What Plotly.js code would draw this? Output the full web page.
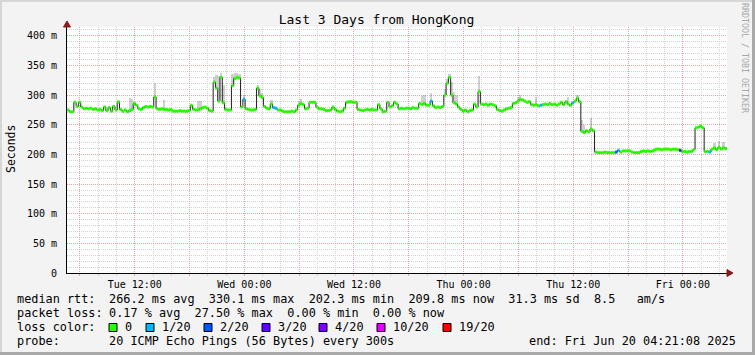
<!DOCTYPE html>
<html>
<head>
<meta charset="utf-8">
<script src="https://cdn.plot.ly/plotly-3.0.1.min.js"></script>
<style>html,body{margin:0;padding:0;background:#f3f3f3;}#chart{width:755px;height:355px;}</style>
</head>
<body>
<div id="chart"></div>
<script>
// ---------------- data ----------------
const chartTitle = 'Last 3 Days from HongKong';
const startTime = '2025-06-17 04:35:00';   // first sample (UTC-naive)
const stepMinutes = 15;                     // spacing of the samples below
// median RTT in ms, one value per step
const medianRtt = [
 275,272,272,288,281,288,280,277,278,277,
 278,276,277,275,276,274,280,274,279,273,
 281,275,288,276,273,275,272,274,276,286,
 283,277,276,279,281,280,281,280,297,277,
 276,277,276,276,275,276,273,273,273,274,
 273,273,273,274,283,276,275,275,277,279,
 280,278,274,273,322,312,290,330,287,276,
 275,275,316,328,330,329,280,293,277,276,
 275,275,276,312,299,296,281,278,277,285,
 279,278,275,275,273,272,272,272,273,272,
 275,283,286,284,277,278,288,288,288,280,
 277,277,276,274,274,275,280,276,273,272,
 273,278,288,289,289,288,288,276,275,274,
 275,276,275,276,275,275,284,277,272,273,
 288,280,282,288,285,277,278,277,278,278,
 277,279,278,278,286,284,286,283,283,290,
 282,279,280,279,281,300,320,330,300,287,
 285,280,276,273,275,272,274,275,285,280,
 306,285,284,285,283,285,284,282,276,274,
 273,275,277,278,279,286,287,290,293,292,
 290,288,289,284,283,284,282,283,284,285,
 284,286,284,285,283,285,288,284,289,285,
 283,287,290,295,289,239,237,240,238,243,
 240,204,203,203,203,204,203,203,203,203,
 204,207,204,206,206,206,206,204,203,203,
 203,205,206,205,206,205,206,208,209,209,
 208,209,209,209,208,209,209,208,207,205,
 205,204,205,205,208,245,246,248,245,205,
 205,204,209,211,208,212,209,211,210
];
// samples with packet loss (index into medianRtt, lost pings out of 20)
const lossIndex = [77, 90, 91, 159, 207, 221, 240, 241, 268, 281];
const lossCount = [1, 1, 1, 1, 1, 1, 2, 1, 4, 1];
// visible "smoke" tops (ms) at selected samples
const smokeIndex = [22,27,28,38,42,57,58,64,65,66,67,68,72,73,74,75,77,83,84,85,89,101,102,155,156,159,165,166,167,168,169,170,180,197,198,205,219,223,225,226,229,283,285,287];
const smokeTop   = [292,296,294,320,292,290,291,330,334,333,337,318,335,338,337,336,300,318,310,304,292,291,293,298,300,304,310,328,336,322,305,300,333,297,300,297,297,300,258,250,262,220,222,221];

const yTickVals = [0, 50, 100, 150, 200, 250, 300, 350, 400];
const yTickText = ['0', '50 m', '100 m', '150 m', '200 m', '250 m', '300 m', '350 m', '400 m'];

const lossLegendCounts = [0, 1, 2, 3, 4, 10, 19];
const lossLegendLabels = ['0', '1/20', '2/20', '3/20', '4/20', '10/20', '19/20'];
const lossLegendColors = ['#26ff00', '#00b8ff', '#0059ff', '#5e00ff', '#7e00ff', '#dd00ff', '#ff0000'];

const medianStatsText = '266.2 ms avg  330.1 ms max  202.3 ms min  209.8 ms now  31.3 ms sd  8.5   am/s';
const lossStatsText = '0.17 % avg  27.50 % max  0.00 % min  0.00 % now';
const probeText = '20 ICMP Echo Pings (56 Bytes) every 300s';
const endText = 'end: Fri Jun 20 04:21:08 2025';

// ---------------- helpers ----------------
const FONT = 'DejaVu Sans Mono, monospace';
const LEG = 11.85;
const STEP = stepMinutes * 60000;
const t0 = Date.parse(startTime.replace(' ', 'T') + 'Z');
function fmt(ms) {
  const d = new Date(ms), p = n => String(n).padStart(2, '0');
  return d.getUTCFullYear() + '-' + p(d.getUTCMonth() + 1) + '-' + p(d.getUTCDate()) + ' ' +
         p(d.getUTCHours()) + ':' + p(d.getUTCMinutes()) + ':' + p(d.getUTCSeconds());
}
const times = medianRtt.map((_, i) => fmt(t0 + i * STEP));
const timeEnd = fmt(t0 + medianRtt.length * STEP);
const tNext = i => fmt(t0 + (i + 1) * STEP);

const lossAt = {};
lossIndex.forEach((idx, k) => { lossAt[idx] = lossCount[k]; });
const colorFor = {};
lossLegendCounts.forEach((c, k) => { colorFor[c] = lossLegendColors[k]; });

// plot geometry in pixels
const W = 755, H = 355, L = 67, R = 727, T = 27, B = 273;
const px = x => (x - L) / (R - L);
const py = y => (B - y) / (B - T);

// ---------------- traces ----------------
const traces = [];
// smoke
traces.push({
  type: 'bar',
  x: smokeIndex.map(i => times[i]),
  base: smokeIndex.map(i => medianRtt[i]),
  y: smokeIndex.map((i, k) => smokeTop[k] - medianRtt[i]),
  width: STEP, offset: 0,
  marker: { color: 'rgba(110,110,110,0.32)', line: { width: 0 } },
  hoverinfo: 'skip'
});
// thin dark median line
traces.push({
  type: 'scatter', mode: 'lines',
  x: times.concat([timeEnd]), y: medianRtt.concat([medianRtt[medianRtt.length - 1]]),
  line: { color: '#202020', width: 1, shape: 'hv' },
  hoverinfo: 'skip'
});
// loss-coloured thick segments
lossLegendCounts.forEach(c => {
  const xs = [], ys = [];
  medianRtt.forEach((v, i) => {
    if ((lossAt[i] || 0) === c) { xs.push(times[i], tNext(i), null); ys.push(v, v, null); }
  });
  if (xs.length) traces.push({
    type: 'scatter', mode: 'lines', x: xs, y: ys, connectgaps: false,
    line: { color: colorFor[c], width: 3 }, hoverinfo: 'skip'
  });
});
// dummy trace to instantiate the overlay axis carrying the 6h/2h grid
traces.push({ type: 'scatter', mode: 'markers', x: [times[0]], y: [0], xaxis: 'x2',
  marker: { opacity: 0 }, hoverinfo: 'skip' });

// ---------------- annotations ----------------
const nb = s => s.replace(/ /g, '\u00a0');
const ann = [];
function txt(text, x, y, o) {
  o = o || {};
  ann.push(Object.assign({
    text: nb(text), xref: 'paper', yref: 'paper', x: px(x), y: py(y),
    xanchor: 'left', yanchor: 'middle', showarrow: false,
    font: { family: FONT, size: LEG, color: '#000' }
  }, o));
}
// y title
txt('Seconds', 11, 149, { xanchor: 'center', textangle: -90, font: { family: FONT, size: 11.5, color: '#000' } });
// watermark
txt('RRDTOOL / TOBI OETIKER', 745.5, 57.5, { xanchor: 'center', textangle: 90, font: { family: FONT, size: 8.3, color: '#a8a8a8' } });
// legend line 1
txt('median rtt:', 15, 299);
txt(medianStatsText, 107, 299);
// legend line 2
txt('packet loss:', 15, 313);
txt(lossStatsText, 107, 313);
// legend line 3
txt('loss color:', 15, 327);
const sqX = [109, 146, 204, 262, 319, 377, 443];
const shapes = [];
sqX.forEach((x, k) => {
  shapes.push({ type: 'rect', xref: 'paper', yref: 'paper', x0: px(x), x1: px(x + 8), y0: py(331.5), y1: py(323.5),
    fillcolor: lossLegendColors[k], line: { color: '#000', width: 1 } });
  txt(lossLegendLabels[k], x + 14, 327);
});
// legend line 4
txt('probe:', 15, 341);
txt(probeText, 107, 341);
txt(endText, 738, 341, { xanchor: 'right' });

// axis arrows
const arrowCol = '#8b1a1a';
shapes.push({ type: 'path', xref: 'paper', yref: 'paper', fillcolor: arrowCol, line: { color: arrowCol, width: 1 },
  path: `M ${px(67)},${py(21)} L ${px(63.5)},${py(27)} L ${px(70.5)},${py(27)} Z` });
shapes.push({ type: 'path', xref: 'paper', yref: 'paper', fillcolor: arrowCol, line: { color: arrowCol, width: 1 },
  path: `M ${px(733)},${py(273)} L ${px(727)},${py(269.5)} L ${px(727)},${py(276.5)} Z` });
// frame
shapes.push({ type: 'line', xref: 'paper', yref: 'paper', x0: px(0), x1: px(W), y0: py(1), y1: py(1), line: { color: '#d6d6d6', width: 2 } });
shapes.push({ type: 'line', xref: 'paper', yref: 'paper', x0: px(1), x1: px(1), y0: py(0), y1: py(H), line: { color: '#d6d6d6', width: 2 } });
shapes.push({ type: 'line', xref: 'paper', yref: 'paper', x0: px(753.5), x1: px(753.5), y0: py(0), y1: py(H), line: { color: '#a9a9a9', width: 3 } });
shapes.push({ type: 'line', xref: 'paper', yref: 'paper', x0: px(0), x1: px(W), y0: py(353.5), y1: py(353.5), line: { color: '#a9a9a9', width: 3 } });

const RED = '#e6a4a4', GRAY = '#d2d2d2', DASH = '1px,1px';
const layout = {
  width: W, height: H,
  margin: { l: L, r: W - R, t: T, b: H - B, pad: 0 },
  paper_bgcolor: '#f3f3f3', plot_bgcolor: '#ffffff',
  showlegend: false, bargap: 0,
  title: { text: chartTitle, font: { family: FONT, size: 13, color: '#000' },
    x: 376.5 / W, xref: 'container', xanchor: 'center', y: 1 - 19 / H, yref: 'container', yanchor: 'middle' },
  xaxis: {
    type: 'date', range: [times[0], timeEnd], tickformat: '%a %H:%M',
    tick0: '2025-06-17 00:00:00', dtick: 12 * 3600000,
    showgrid: false, zeroline: false, showline: true, linecolor: '#000', linewidth: 1,
    ticks: '', ticklabelstandoff: 2,
    tickfont: { family: FONT, size: 10, color: '#000' }, fixedrange: true
  },
  xaxis2: {
    type: 'date', overlaying: 'x', anchor: 'y', range: [times[0], timeEnd],
    tick0: '2025-06-17 00:00:00', dtick: 6 * 3600000,
    showgrid: true, gridcolor: RED, griddash: DASH, gridwidth: 1,
    showticklabels: false, zeroline: false, showline: false,
    ticks: 'outside', ticklen: 2, tickcolor: RED,
    minor: { dtick: 2 * 3600000, tick0: '2025-06-17 00:00:00', showgrid: true, gridcolor: GRAY, griddash: DASH,
      ticks: 'outside', ticklen: 2, tickcolor: GRAY },
    fixedrange: true
  },
  yaxis: {
    range: [0, 415], tickmode: 'array', tickvals: yTickVals, ticktext: yTickText,
    showgrid: true, gridcolor: RED, griddash: DASH, gridwidth: 1,
    minor: { tickmode: 'linear', tick0: 0, dtick: 10, showgrid: true, gridcolor: GRAY, griddash: DASH },
    zeroline: false, showline: true, linecolor: '#000', linewidth: 1,
    ticks: '', ticklabelstandoff: 7,
    tickfont: { family: FONT, size: 10, color: '#000' }, fixedrange: true
  },
  annotations: ann, shapes: shapes
};
Plotly.newPlot('chart', traces, layout, { staticPlot: true, displayModeBar: false });
</script>
</body>
</html>
